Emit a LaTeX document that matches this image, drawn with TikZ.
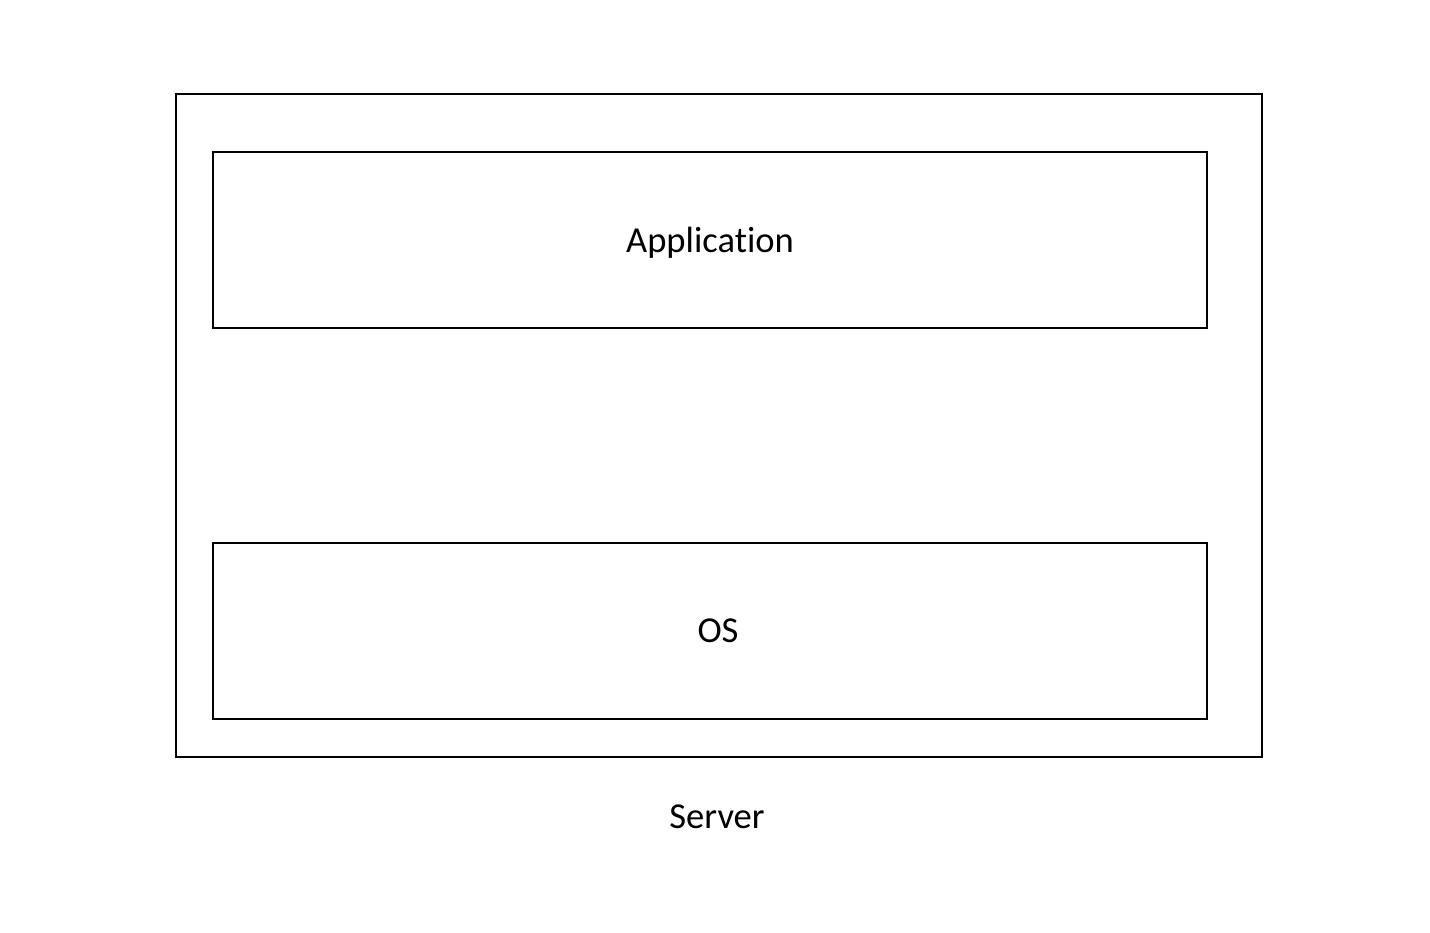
\documentclass[tikz,border=0pt]{standalone}
\usepackage{fontspec}
\setsansfont[Ligatures=NoCommon]{Carlito}
\tikzset{every picture/.style={/utils/exec={\sffamily\fontsize{10.4}{12}\selectfont}}}
\usetikzlibrary{positioning}

\tikzset{
  hostbox/.style={draw, line width=0.55pt, minimum width=10.86cm, minimum height=6.63cm, inner sep=0pt},
  layerbox/.style={draw, line width=0.55pt, minimum width=9.94cm, minimum height=1.76cm, inner sep=0pt}
}

\begin{document}
\begin{tikzpicture}
  \useasboundingbox (0,0) rectangle (14.30,9.32);

  \node [hostbox] (server) at (7.19,5.065) {};
  \node [layerbox] (app) at (7.10,6.92) {\raisebox{-0.03cm}[\height][\depth]{Application}};
  \node [layerbox] (os) at (7.10,3.01) {\hspace{0.16cm}OS};

  \node [below=0.34cm of server.south, xshift=-0.02cm] (serverlabel) {Server};
\end{tikzpicture}
\end{document}
